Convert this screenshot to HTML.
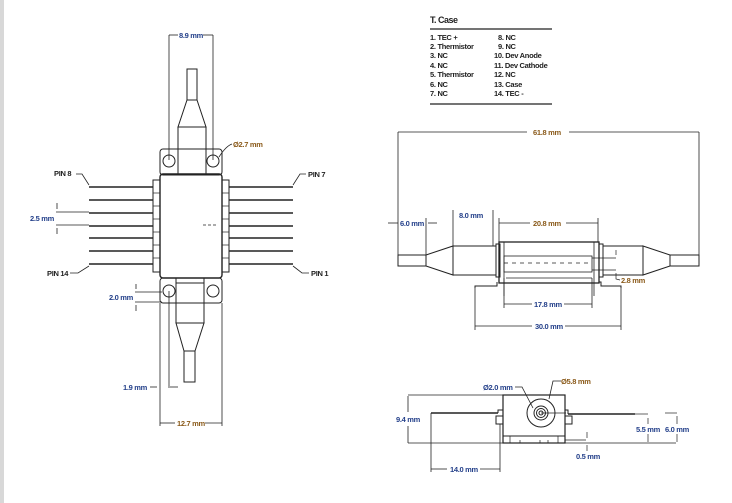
<!DOCTYPE html>
<html><head><meta charset="utf-8"><style>
html,body{margin:0;padding:0;background:#fff;width:732px;height:503px;overflow:hidden}
svg{display:block}
text{font-family:"Liberation Sans",sans-serif;font-weight:bold;font-size:7.5px;letter-spacing:-0.3px}
.b{fill:#24408a}.o{fill:#8a5a1a}.k{fill:#222}
.t{font-size:9px;fill:#222;letter-spacing:-0.5px}
</style></head><body>
<svg width="732" height="503" viewBox="0 0 732 503" xmlns="http://www.w3.org/2000/svg">
<rect x="0" y="0" width="4" height="503" fill="#d8d8d8"/>
<g fill="none" stroke="#222" stroke-width="1">
<line x1="169" y1="35" x2="169" y2="160" stroke-width="0.8"/>
<line x1="213" y1="35" x2="213" y2="160" stroke-width="0.8"/>
<line x1="169" y1="35" x2="178" y2="35" stroke-width="0.8"/><line x1="203" y1="35" x2="213" y2="35" stroke-width="0.8"/>
<rect x="187" y="69" width="10" height="31"/>
<polygon points="187,100 197,100 206,127 178,127"/>
<rect x="178" y="127" width="28" height="47"/>
<rect x="160" y="149" width="62" height="26" rx="3"/>
<circle cx="169" cy="161" r="6"/><circle cx="213" cy="161" r="6"/>
<path d="M219 157 Q226 146 232 144" stroke-width="0.8"/>
<rect x="160" y="174" width="62" height="104" rx="3" stroke-width="1.4"/>
<rect x="153" y="180" width="7" height="92"/><rect x="222" y="180" width="7" height="92"/>
<g stroke-width="1.6">
<line x1="89" y1="187" x2="153" y2="187"/><line x1="89" y1="200" x2="153" y2="200"/><line x1="89" y1="213" x2="153" y2="213"/><line x1="89" y1="226" x2="153" y2="226"/><line x1="89" y1="238" x2="153" y2="238"/><line x1="89" y1="251" x2="153" y2="251"/><line x1="89" y1="264" x2="153" y2="264"/>
<line x1="229" y1="187" x2="293" y2="187"/><line x1="229" y1="200" x2="293" y2="200"/><line x1="229" y1="213" x2="293" y2="213"/><line x1="229" y1="226" x2="293" y2="226"/><line x1="229" y1="238" x2="293" y2="238"/><line x1="229" y1="251" x2="293" y2="251"/><line x1="229" y1="264" x2="293" y2="264"/>
</g>
<g stroke-width="0.7"><line x1="153" y1="193" x2="160" y2="193"/><line x1="153" y1="206" x2="160" y2="206"/><line x1="153" y1="219" x2="160" y2="219"/><line x1="153" y1="232" x2="160" y2="232"/><line x1="153" y1="245" x2="160" y2="245"/><line x1="153" y1="258" x2="160" y2="258"/>
<line x1="222" y1="193" x2="229" y2="193"/><line x1="222" y1="206" x2="229" y2="206"/><line x1="222" y1="219" x2="229" y2="219"/><line x1="222" y1="232" x2="229" y2="232"/><line x1="222" y1="245" x2="229" y2="245"/><line x1="222" y1="258" x2="229" y2="258"/></g>
<path d="M76 174 L82 174 L89 185" stroke-width="0.8"/><path d="M306 174 L300 174 L293 185" stroke-width="0.8"/>
<path d="M70 273 L78 273 L89 266" stroke-width="0.8"/><path d="M309 273 L302 273 L293 266" stroke-width="0.8"/>
<line x1="56" y1="212" x2="89" y2="212" stroke-width="0.8"/><line x1="56" y1="225" x2="89" y2="225" stroke-width="0.8"/>
<line x1="57" y1="203" x2="57" y2="209" stroke-width="0.8"/><line x1="57" y1="228" x2="57" y2="234" stroke-width="0.8"/>
<line x1="203" y1="225" x2="218" y2="225" stroke-dasharray="3,2" stroke-width="0.8"/>
<rect x="160" y="278" width="62" height="25" rx="3"/>
<rect x="176" y="278" width="28" height="5"/>
<circle cx="169" cy="291" r="6"/><circle cx="213" cy="291" r="6"/>
<rect x="176" y="283" width="28" height="40"/>
<polygon points="176,323 204,323 195,351 184,351"/>
<rect x="184" y="351" width="11" height="31"/>
<line x1="135" y1="292" x2="162" y2="292" stroke-width="0.8"/><line x1="135" y1="302" x2="162" y2="302" stroke-width="0.8"/>
<line x1="136" y1="284" x2="136" y2="289" stroke-width="0.8"/><line x1="136" y1="305" x2="136" y2="311" stroke-width="0.8"/>
<line x1="160" y1="303" x2="160" y2="426" stroke-width="0.8"/><line x1="222" y1="303" x2="222" y2="426" stroke-width="0.8"/>
<line x1="169" y1="291" x2="169" y2="388" stroke-width="0.8"/>
<line x1="150" y1="387" x2="157" y2="387" stroke-width="0.8"/><line x1="170" y1="387" x2="178" y2="387" stroke-width="0.8"/>
<line x1="160" y1="423" x2="175" y2="423" stroke-width="0.8"/><line x1="205" y1="423" x2="222" y2="423" stroke-width="0.8"/>

<line x1="430" y1="29" x2="552" y2="29" stroke-width="1.2"/>
<line x1="430" y1="104" x2="552" y2="104" stroke-width="1.2"/>

<line x1="398" y1="132" x2="398" y2="256" stroke-width="0.8"/><line x1="699" y1="132" x2="699" y2="256" stroke-width="0.8"/>
<line x1="398" y1="132" x2="527" y2="132" stroke-width="0.8"/><line x1="569" y1="132" x2="699" y2="132" stroke-width="0.8"/>
<rect x="398" y="255" width="28" height="11"/>
<polygon points="426,255 453,246 453,275 426,266"/>
<rect x="453" y="246" width="43" height="29"/>
<rect x="496" y="244" width="4" height="33"/>
<rect x="499" y="242" width="100" height="41" stroke-width="1.3"/>
<line x1="504" y1="242" x2="504" y2="296" stroke-width="0.8"/><line x1="594" y1="242" x2="594" y2="296" stroke-width="0.8"/>
<rect x="504" y="256" width="88" height="16" stroke-width="0.8"/>
<line x1="504" y1="263" x2="592" y2="263" stroke-width="0.8" stroke-dasharray="4,4"/>
<line x1="506" y1="278" x2="592" y2="278" stroke-width="0.8"/>
<path d="M475 288 L475 286 L497 286 L497 282 M599 282 L601 282 L601 286 L621 286 L621 288" />
<line x1="475" y1="286" x2="475" y2="330" stroke-width="0.8"/><line x1="621" y1="286" x2="621" y2="330" stroke-width="0.8"/>
<rect x="599" y="244" width="4" height="33"/>
<rect x="603" y="246" width="40" height="29"/>
<polygon points="643,246 670,255 670,266 643,275"/>
<rect x="670" y="255" width="29" height="11"/>
<line x1="592" y1="258" x2="616" y2="258" stroke-width="0.7"/><line x1="592" y1="270" x2="616" y2="270" stroke-width="0.7"/>
<line x1="616" y1="250" x2="616" y2="255" stroke-width="0.7"/><path d="M616 273 L616 279 L620 280" stroke-width="0.7"/>
<line x1="426" y1="218" x2="426" y2="255" stroke-width="0.8"/>
<line x1="388" y1="223" x2="398" y2="223" stroke-width="0.8"/><line x1="428" y1="223" x2="437" y2="223" stroke-width="0.8"/>
<line x1="453" y1="210" x2="453" y2="246" stroke-width="0.8"/><line x1="493" y1="210" x2="493" y2="246" stroke-width="0.8"/>
<line x1="499" y1="218" x2="499" y2="242" stroke-width="0.8"/><line x1="598" y1="218" x2="598" y2="242" stroke-width="0.8"/>
<line x1="499" y1="223" x2="530" y2="223" stroke-width="0.8"/><line x1="566" y1="223" x2="598" y2="223" stroke-width="0.8"/>
<line x1="504" y1="304" x2="532" y2="304" stroke-width="0.8"/><line x1="564" y1="304" x2="592" y2="304" stroke-width="0.8"/>
<line x1="504" y1="278" x2="504" y2="308" stroke-width="0.8"/><line x1="592" y1="278" x2="592" y2="308" stroke-width="0.8"/>
<line x1="475" y1="326" x2="532" y2="326" stroke-width="0.8"/><line x1="565" y1="326" x2="621" y2="326" stroke-width="0.8"/>

<rect x="503" y="395" width="62" height="48" stroke-width="1.2"/>
<line x1="503" y1="436" x2="565" y2="436"/>
<line x1="510" y1="443" x2="510" y2="436" stroke-width="0.7"/><line x1="558" y1="443" x2="558" y2="436" stroke-width="0.7"/>
<line x1="520" y1="443" x2="520" y2="440" stroke-width="0.7"/><line x1="540" y1="443" x2="540" y2="440" stroke-width="0.7"/><line x1="548" y1="443" x2="548" y2="440" stroke-width="0.7"/>
<line x1="431" y1="413" x2="498" y2="413" stroke-width="1.5"/>
<line x1="568" y1="414" x2="635" y2="414" stroke-width="1.5"/>
<path d="M498 413 L498 410 L503 410 M565 410 L568 410 L568 414"/>
<rect x="496" y="416" width="7" height="8"/><rect x="565" y="416" width="7" height="8"/>
<circle cx="541" cy="413" r="14"/><circle cx="541" cy="413" r="7"/><circle cx="541" cy="413" r="4.5"/><circle cx="541" cy="413" r="2"/>
<line x1="541" y1="413" x2="566" y2="413" stroke-width="0.7"/>
<path d="M515 387 L522 387 L533 408" stroke-width="0.8"/>
<path d="M561 381 L553 381 L549 399" stroke-width="0.8"/>
<line x1="408" y1="395" x2="503" y2="395" stroke-width="0.8"/>
<line x1="408" y1="443" x2="676" y2="443" stroke-width="0.8"/>
<line x1="408" y1="396" x2="408" y2="412" stroke-width="0.8"/><line x1="408" y1="426" x2="408" y2="443" stroke-width="0.8"/>
<line x1="431" y1="413" x2="431" y2="472" stroke-width="0.8"/><line x1="500" y1="424" x2="500" y2="472" stroke-width="0.8"/>
<line x1="431" y1="469" x2="447" y2="469" stroke-width="0.8"/><line x1="480" y1="469" x2="500" y2="469" stroke-width="0.8"/>
<line x1="565" y1="440" x2="586" y2="440" stroke-width="0.7"/>
<line x1="587" y1="432" x2="587" y2="438" stroke-width="0.7"/><line x1="587" y1="445" x2="587" y2="451" stroke-width="0.7"/>
<line x1="635" y1="414" x2="648" y2="414" stroke-width="0.7"/>
<line x1="648" y1="418" x2="648" y2="424" stroke-width="0.7"/><line x1="648" y1="434" x2="648" y2="442" stroke-width="0.7"/>
<line x1="665" y1="413" x2="677" y2="413" stroke-width="0.7"/>
<line x1="677" y1="416" x2="677" y2="424" stroke-width="0.7"/><line x1="677" y1="434" x2="677" y2="442" stroke-width="0.7"/>
</g>

<text x="179" y="38" class="b">8.9 mm</text>
<text x="233" y="147" class="o">Ø2.7 mm</text>
<text x="54" y="176" class="k">PIN 8</text>
<text x="308" y="177" class="k">PIN 7</text>
<text x="30" y="221" class="b">2.5 mm</text>
<text x="47" y="276" class="k">PIN 14</text>
<text x="311" y="276" class="k">PIN 1</text>
<text x="109" y="300" class="b">2.0 mm</text>
<text x="123" y="390" class="b">1.9 mm</text>
<text x="177" y="426" class="o">12.7 mm</text>

<text x="430" y="23" class="t">T. Case</text>
<g class="t">
<text x="430" y="40">1. TEC +</text><text x="430" y="49">2. Thermistor</text><text x="430" y="58">3. NC</text><text x="430" y="68">4. NC</text><text x="430" y="77">5. Thermistor</text><text x="430" y="87">6. NC</text><text x="430" y="96">7. NC</text>
<text x="498" y="40">8. NC</text><text x="498" y="49">9. NC</text><text x="494" y="58">10. Dev Anode</text><text x="494" y="68">11. Dev Cathode</text><text x="494" y="77">12. NC</text><text x="494" y="87">13. Case</text><text x="494" y="96">14. TEC -</text>
</g>

<text x="533" y="135" class="o">61.8 mm</text>
<text x="400" y="226" class="b">6.0 mm</text>
<text x="459" y="218" class="b">8.0 mm</text>
<text x="533" y="226" class="o">20.8 mm</text>
<text x="621" y="283" class="o">2.8 mm</text>
<text x="534" y="307" class="b">17.8 mm</text>
<text x="535" y="329" class="b">30.0 mm</text>

<text x="483" y="390" class="b">Ø2.0 mm</text>
<text x="561" y="384" class="o">Ø5.8 mm</text>
<text x="396" y="422" class="b">9.4 mm</text>
<text x="636" y="432" class="b">5.5 mm</text>
<text x="665" y="432" class="b">6.0 mm</text>
<text x="576" y="459" class="b">0.5 mm</text>
<text x="450" y="472" class="b">14.0 mm</text>
</svg>
</body></html>
